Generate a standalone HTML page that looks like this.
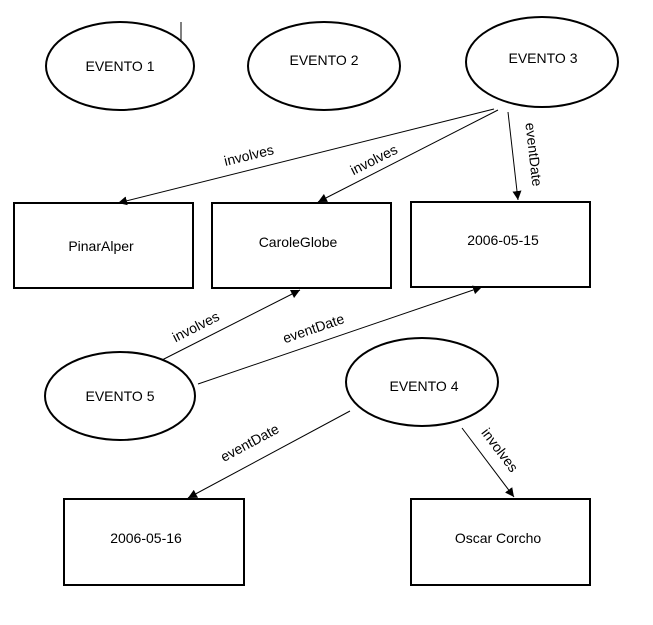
<!DOCTYPE html>
<html><head><style>body{margin:0;background:#fff}svg{display:block}text{font-family:"Liberation Sans",sans-serif;font-size:14px;fill:#000}</style></head><body>
<svg width="653" height="625" viewBox="0 0 653 625">
<defs><marker id="a" viewBox="0 0 10 10" refX="10" refY="5" markerWidth="9" markerHeight="9" orient="auto" markerUnits="userSpaceOnUse"><path d="M0,0L10,5L0,10z" fill="#000"/></marker></defs>
<g fill="#fff" stroke="#000" stroke-width="2">
<ellipse cx="120" cy="66" rx="74" ry="44"/>
<ellipse cx="324" cy="66" rx="76" ry="44"/>
<ellipse cx="542" cy="62" rx="76" ry="45"/>
<ellipse cx="120" cy="396" rx="75" ry="44"/>
<ellipse cx="422" cy="382" rx="76" ry="44"/>
<rect x="14" y="203" width="179" height="85"/>
<rect x="212" y="203" width="179" height="85"/>
<rect x="411" y="202" width="179" height="85"/>
<rect x="64" y="499" width="180" height="86"/>
<rect x="411" y="499" width="179" height="86"/>
</g>
<line x1="181" y1="22" x2="181" y2="40" stroke="#000" stroke-width="1"/>
<g stroke="#000" stroke-width="1" marker-end="url(#a)">
<line x1="494" y1="109" x2="118" y2="203"/>
<line x1="498" y1="110" x2="318" y2="202"/>
<line x1="508" y1="112" x2="518" y2="200"/>
<line x1="162" y1="360" x2="300" y2="290"/>
<line x1="198" y1="384" x2="482" y2="287"/>
<line x1="350" y1="411" x2="188" y2="498"/>
<line x1="462" y1="428" x2="514" y2="497"/>
</g>
<g text-anchor="middle">
<text x="120" y="71">EVENTO 1</text>
<text x="324" y="65">EVENTO 2</text>
<text x="543" y="63">EVENTO 3</text>
<text x="120" y="401">EVENTO 5</text>
<text x="424" y="391">EVENTO 4</text>
<text x="101" y="251">PinarAlper</text>
<text x="298" y="247">CaroleGlobe</text>
<text x="503" y="245">2006-05-15</text>
<text x="146" y="543">2006-05-16</text>
<text x="498" y="543">Oscar Corcho</text>
<text transform="translate(250,160) rotate(-13.7)">involves</text>
<text transform="translate(376,164) rotate(-26.6)">involves</text>
<text transform="translate(529,155) rotate(83.5)">eventDate</text>
<text transform="translate(198,331) rotate(-26.9)">involves</text>
<text transform="translate(315,333) rotate(-18.9)">eventDate</text>
<text transform="translate(252,447) rotate(-28.2)">eventDate</text>
<text transform="translate(496,453) rotate(53)">involves</text>
</g>
</svg>
</body></html>
